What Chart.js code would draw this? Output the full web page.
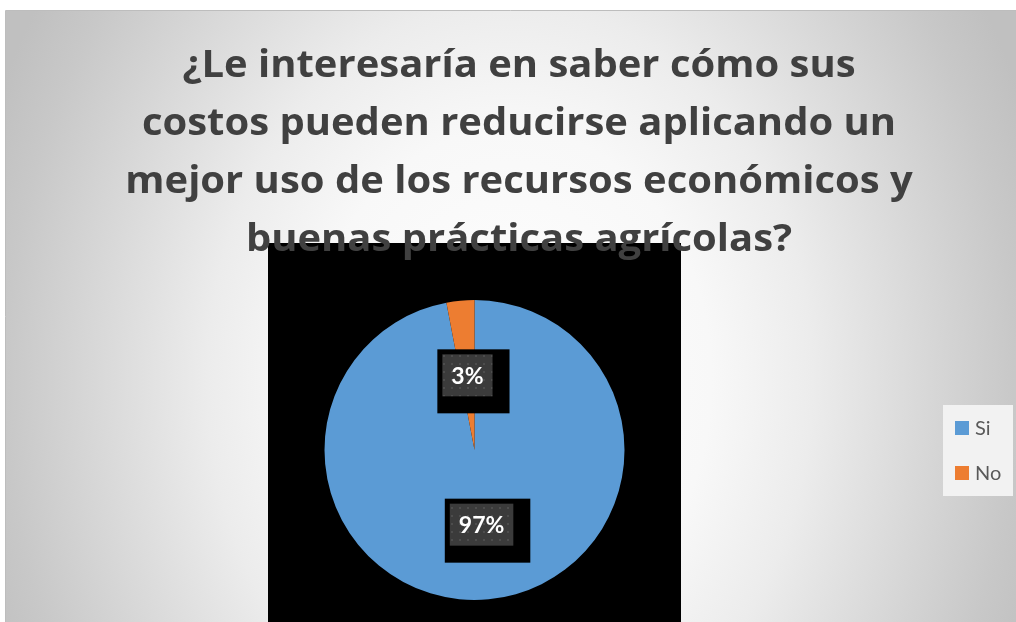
<!DOCTYPE html>
<html>
<head>
<meta charset="utf-8">
<script src="https://cdn.jsdelivr.net/npm/chart.js@4"></script>
<style>
    html, body { margin: 0; padding: 0; background: #ffffff; overflow: hidden; }
    canvas { display: block; }
</style>
</head>
<body>
<canvas id="encuestaChart" width="1016" height="622"></canvas>
<script>
// Respuestas de la encuesta
const categorias = ['Si', 'No'];
const porcentajes = [97, 3];
const colores = ['#5b9bd5', '#ed7d31'];

const tituloLineas = [
    '¿Le interesaría en saber cómo sus',
    'costos pueden reducirse aplicando un',
    'mejor uso de los recursos económicos y',
    'buenas prácticas agrícolas?'
];

const fuente = 'Lato, "Open Sans", sans-serif';
const fuenteTitulo = '"Open Sans", Lato, sans-serif';

// Fondo con degradado radial (elíptico) y marco
const fondoPlugin = {
    id: 'fondo',
    beforeDraw(chart) {
        const ctx = chart.ctx;
        const w = chart.width, h = chart.height;
        ctx.save();
        ctx.fillStyle = '#ffffff';
        ctx.fillRect(0, 0, w, h);

        const cx = 510, cy = 380, sy = 1.25;
        ctx.save();
        ctx.translate(cx, cy);
        ctx.scale(1, sy);
        const g = ctx.createRadialGradient(0, 0, 0, 0, 0, 560);
        g.addColorStop(0, '#ffffff');
        g.addColorStop(0.36, '#f8f8f8');
        g.addColorStop(0.54, '#ececec');
        g.addColorStop(0.9, '#c8c8c8');
        g.addColorStop(1, '#c0c0c0');
        ctx.fillStyle = g;
        ctx.fillRect(6 - cx, (11 - cy) / sy, w - 6, (h - 11) / sy);
        ctx.restore();

        ctx.strokeStyle = '#bdbdbd';
        ctx.lineWidth = 1;
        ctx.beginPath();
        ctx.moveTo(5.5, h);
        ctx.lineTo(5.5, 10.5);
        ctx.lineTo(w, 10.5);
        ctx.stroke();

        // área de trazado en negro
        const a = chart.chartArea;
        ctx.fillStyle = '#000000';
        ctx.fillRect(a.left, a.top - 57, a.right - a.left, h - (a.top - 57));
        ctx.restore();
    }
};

// Patrón punteado para las etiquetas de datos
function crearPatron(ctx) {
    const p = document.createElement('canvas');
    p.width = 8;
    p.height = 8;
    const pc = p.getContext('2d');
    pc.fillStyle = '#3b3b3b';
    pc.fillRect(0, 0, 8, 8);
    pc.fillStyle = '#4d4d4d';
    pc.fillRect(3, 3, 2, 2);
    return ctx.createPattern(p, 'repeat');
}

// Título, etiquetas de porcentaje y leyenda
const textosPlugin = {
    id: 'textos',
    afterDraw(chart) {
        const ctx = chart.ctx;
        ctx.save();

        // etiquetas de datos
        const meta = chart.getDatasetMeta(0);
        const patron = crearPatron(ctx);
        ctx.font = 'bold 23px ' + fuente;
        ctx.textAlign = 'center';
        ctx.textBaseline = 'middle';
        meta.data.forEach((arc, i) => {
            const pos = arc.tooltipPosition();
            const texto = porcentajes[i] + '%';
            const tw = ctx.measureText(texto).width;
            const bw = tw + 18, bh = 42;
            const x = pos.x - bw / 2, y = pos.y - bh / 2;
            ctx.fillStyle = '#000000';
            ctx.fillRect(x - 5, y - 5, bw + 22, bh + 22);
            ctx.fillStyle = patron;
            ctx.fillRect(x, y, bw, bh);
            ctx.fillStyle = '#ffffff';
            ctx.fillText(texto, pos.x, pos.y + 1);
        });

        // título (ligeramente ensanchado)
        ctx.fillStyle = '#404040';
        ctx.font = 'bold 38px ' + fuenteTitulo;
        ctx.textBaseline = 'alphabetic';
        const cx = 519;
        tituloLineas.forEach((linea, i) => {
            ctx.save();
            ctx.translate(cx, 77 + i * 58);
            ctx.scale(1.052, 1);
            ctx.fillText(linea, 0, 0);
            ctx.restore();
        });

        // leyenda
        ctx.fillStyle = '#f2f2f2';
        ctx.fillRect(943, 405, 70, 91);
        ctx.font = '20px ' + fuente;
        ctx.textAlign = 'left';
        ctx.textBaseline = 'middle';
        categorias.forEach((cat, i) => {
            const cy = 428 + i * 45;
            ctx.fillStyle = colores[i];
            ctx.fillRect(955, cy - 7, 14, 14);
            ctx.fillStyle = '#595959';
            ctx.fillText(cat, 975, cy + 1);
        });

        ctx.restore();
    }
};

new Chart(document.getElementById('encuestaChart'), {
    type: 'pie',
    data: {
        labels: categorias,
        datasets: [{
            data: porcentajes,
            backgroundColor: colores,
            borderWidth: 0
        }]
    },
    options: {
        responsive: false,
        animation: false,
        layout: {
            padding: { left: 268, right: 335, top: 300, bottom: 22 }
        },
        plugins: {
            legend: { display: false },
            title: { display: false },
            tooltip: { enabled: false }
        }
    },
    plugins: [fondoPlugin, textosPlugin]
});
</script>
</body>
</html>
